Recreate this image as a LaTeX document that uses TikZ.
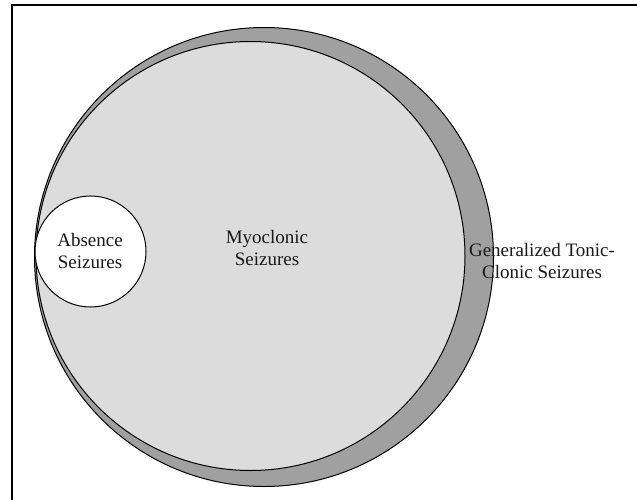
\documentclass[tikz,border=0pt]{standalone}
\usepackage{fontspec}
\setmainfont{Liberation Serif}
\definecolor{gtcgray}{HTML}{A0A0A0}
\definecolor{myogray}{HTML}{DCDCDC}
\begin{document}
\begin{tikzpicture}[x=1pt,y=-1pt,
  setcircle/.style={draw=black, line width=1pt},
  lbl/.style={align=center, font=\fontsize{19}{21.5}\selectfont, inner sep=0pt, text=black!90}]
\useasboundingbox (0,0) rectangle (637,500);
\fill[white] (0,0) rectangle (637,500);
\draw[line width=2pt] (11.5,500) -- (11.5,5.5) -- (637,5.5);
\draw[setcircle, fill=gtcgray] (264,257) circle (229.5);
\draw[setcircle, fill=myogray] (250.5,256) circle (214.5);
\draw[setcircle, fill=white] (90.5,251.5) circle (55.5);
\node[lbl] (abs) at (90,251) {Absence\\Seizures};
\node[lbl] (myo) at (267,248) {Myoclonic\\Seizures};
\node[lbl] (gtc) at (542,261) {Generalized Tonic-\\Clonic Seizures};
\end{tikzpicture}
\end{document}
